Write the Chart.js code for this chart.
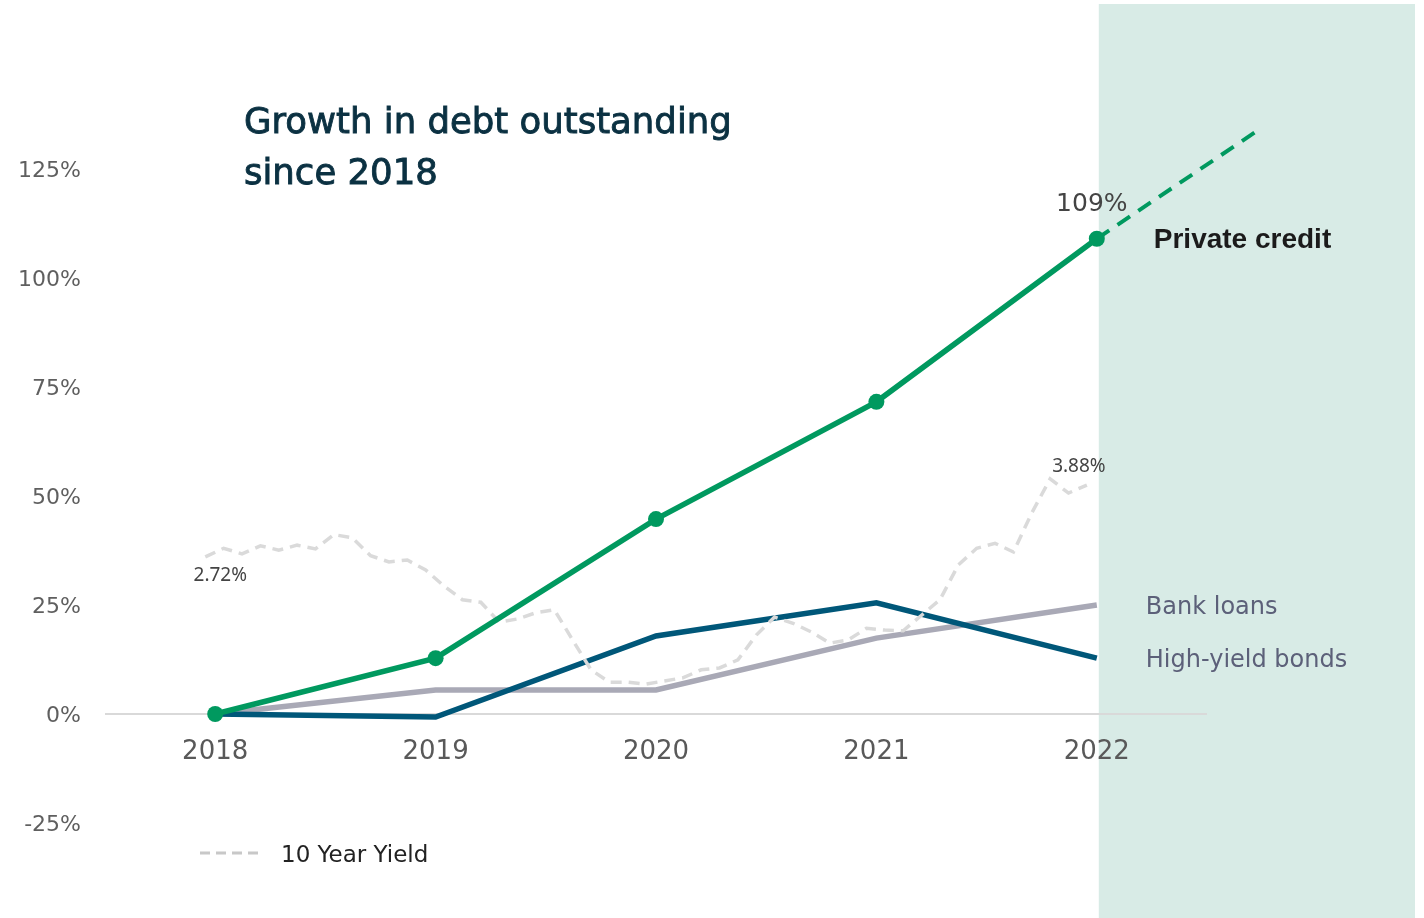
<!DOCTYPE html>
<html>
<head>
<meta charset="utf-8">
<script src="https://cdn.jsdelivr.net/npm/chart.js@4"></script>
<style>
  html, body { margin: 0; padding: 0; background: #fff; }
</style>
</head>
<body>
<canvas id="debtChart" width="1424" height="918"></canvas>
<script>
// === Datos ===
const years = [2018, 2019, 2020, 2021, 2022];
const privateCredit = [0, 12.8, 44.7, 71.6, 109];
const bankLoans = [0, 5.5, 5.5, 17.4, 25];
const highYield = [0, -0.7, 17.9, 25.5, 12.8];
const privateOutlookX = [2022, 2022.72];
const privateOutlookY = [109, 133.5];

// 10 year yield, monthly, starting a little before 2018
const yieldStart = 2017.955;
const tenYearYield = [
  2.72, 2.86, 2.77, 2.90, 2.83, 2.91, 2.85, 3.08, 3.03, 2.74,
  2.64, 2.67, 2.51, 2.25, 2.03, 1.99, 1.67, 1.72, 1.82, 1.87,
  1.38, 0.90, 0.70, 0.70, 0.67, 0.72, 0.77, 0.90, 0.93, 1.06,
  1.46, 1.75, 1.65, 1.51, 1.33, 1.38, 1.57, 1.54, 1.53, 1.78,
  2.03, 2.59, 2.86, 2.94, 2.80, 3.43, 3.98, 3.75, 3.88
];

const yTicks = [-25, 0, 25, 50, 75, 100, 125];

const GREEN = '#00995f';
const NAVY = '#005779';
const GREY = '#a9a9b6';

const toPoints = (xs, ys) => ys.map((v, i) => ({ x: xs[i], y: v }));
const yieldPoints = tenYearYield.map((v, i) => ({ x: yieldStart + i / 12, y: v }));

// === Textos y franja ===
const extras = {
  id: 'extras',
  beforeDraw(chart) {
    const { ctx, scales: { x } } = chart;
    const left = x.getPixelForValue(years[years.length - 1]) + 2;
    ctx.save();
    ctx.fillStyle = '#d8ebe6';
    ctx.fillRect(left, 4, 1415 - left, 914);
    ctx.restore();
  },
  afterDraw(chart) {
    const { ctx, scales: { x, y, y2 } } = chart;
    const lastX = x.getPixelForValue(years[years.length - 1]);
    ctx.save();

    // titulo
    ctx.fillStyle = '#0b3142';
    ctx.strokeStyle = '#0b3142';
    ctx.lineWidth = 0.9;
    ctx.font = '35.5px "DejaVu Sans"';
    ctx.textAlign = 'left';
    ctx.textBaseline = 'alphabetic';
    ['Growth in debt outstanding', 'since 2018'].forEach((line, i) => {
      ctx.fillText(line, 244, 133 + i * 51);
      ctx.strokeText(line, 244, 133 + i * 51);
    });

    // nombres de series
    const pcLast = privateCredit[privateCredit.length - 1];
    ctx.fillStyle = '#1b1b1b';
    ctx.font = 'bold 28px "Liberation Sans"';
    ctx.fillText('Private credit', lastX + 57, y.getPixelForValue(pcLast) + 9);

    ctx.fillStyle = '#5c6079';
    ctx.font = '24px "DejaVu Sans"';
    ctx.fillText('Bank loans', lastX + 49, y.getPixelForValue(bankLoans[4]) + 9);
    ctx.fillText('High-yield bonds', lastX + 49, y.getPixelForValue(highYield[4]) + 9);

    // valores
    ctx.fillStyle = '#444';
    ctx.font = '25px "DejaVu Sans"';
    ctx.textAlign = 'center';
    ctx.fillText(pcLast + '%', lastX - 5, y.getPixelForValue(pcLast) - 28);

    ctx.font = '19px "Noto Sans"';
    const first = yieldPoints[0];
    const last = yieldPoints[yieldPoints.length - 1];
    ctx.fillText(first.y.toFixed(2) + '%', x.getPixelForValue(first.x) + 15, y2.getPixelForValue(first.y) + 24);
    ctx.fillText(last.y.toFixed(2) + '%', x.getPixelForValue(last.x) - 8, y2.getPixelForValue(last.y) - 13);

    // leyenda
    ctx.strokeStyle = '#c8c8c8';
    ctx.lineWidth = 3;
    ctx.setLineDash([10, 6]);
    ctx.beginPath();
    ctx.moveTo(200, 853);
    ctx.lineTo(262, 853);
    ctx.stroke();
    ctx.setLineDash([]);
    ctx.fillStyle = '#222';
    ctx.font = '23px "DejaVu Sans"';
    ctx.textAlign = 'left';
    ctx.fillText('10 Year Yield', 281, 862);

    ctx.restore();
  }
};

new Chart(document.getElementById('debtChart'), {
  type: 'line',
  data: {
    datasets: [
      {
        label: 'Private credit',
        data: toPoints(years, privateCredit),
        borderColor: GREEN,
        backgroundColor: GREEN,
        borderWidth: 5.5,
        pointRadius: 8,
        pointBorderWidth: 0,
        yAxisID: 'y'
      },
      {
        label: 'Private credit outlook',
        data: toPoints(privateOutlookX, privateOutlookY),
        borderColor: GREEN,
        borderWidth: 4,
        borderDash: [15, 10],
        pointRadius: 0,
        clip: false,
        yAxisID: 'y'
      },
      {
        label: '10 Year Yield',
        data: yieldPoints,
        borderColor: '#dadada',
        borderWidth: 3.5,
        borderDash: [11, 7],
        pointRadius: 0,
        yAxisID: 'y2'
      },
      {
        label: 'High-yield bonds',
        data: toPoints(years, highYield),
        borderColor: NAVY,
        borderWidth: 5.5,
        pointRadius: 0,
        yAxisID: 'y'
      },
      {
        label: 'Bank loans',
        data: toPoints(years, bankLoans),
        borderColor: GREY,
        borderWidth: 5.5,
        pointRadius: 0,
        yAxisID: 'y'
      }
    ]
  },
  options: {
    responsive: false,
    animation: false,
    layout: { padding: { top: 60, bottom: 95, right: 217, left: 0 } },
    plugins: {
      legend: { display: false },
      tooltip: { enabled: false }
    },
    scales: {
      x: {
        type: 'linear',
        position: { y: 0 },
        min: 2017.5,
        max: 2022.5,
        afterBuildTicks: scale => { scale.ticks = years.map(v => ({ value: v })); },
        grid: { display: false, drawTicks: false },
        border: { display: false },
        ticks: {
          padding: 23,
          color: '#595959',
          font: { family: 'DejaVu Sans', size: 26 },
          callback: v => String(v)
        }
      },
      y: {
        min: -25,
        max: 150,
        afterBuildTicks: scale => { scale.ticks = yTicks.map(v => ({ value: v })); },
        afterFit: scale => { scale.width = 105; },
        grid: {
          drawTicks: false,
          color: ctx => ctx.tick && ctx.tick.value === 0 ? '#d9d9d9' : 'rgba(0,0,0,0)',
          lineWidth: 2
        },
        border: { display: false },
        ticks: {
          padding: 24,
          labelOffset: 2,
          color: '#5f5f5f',
          font: { family: 'DejaVu Sans', size: 22 },
          callback: v => v + '%'
        }
      },
      y2: {
        display: false,
        min: -1.571,
        max: 10.735
      }
    }
  },
  plugins: [extras]
});
</script>
</body>
</html>
